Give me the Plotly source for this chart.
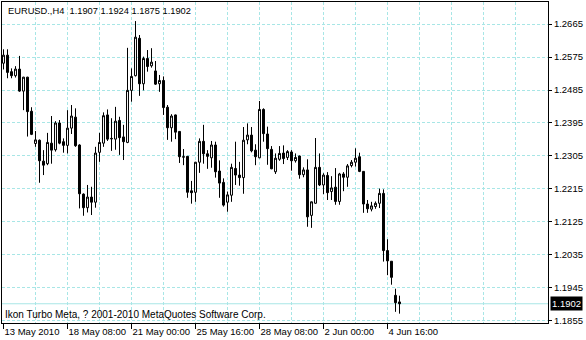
import plotly.graph_objects as go

# ---- data: EURUSD H4 bars (bar index 0..99) ----
opens = [1.2558, 1.2580, 1.2535, 1.2524, 1.2542, 1.2482, 1.2520, 1.2427, 1.2339, 1.2348,
         1.2291, 1.2284, 1.2340, 1.2322, 1.2395, 1.2344, 1.2334, 1.2381, 1.2411, 1.2335,
         1.2201, 1.2164, 1.2193, 1.2179, 1.2315, 1.2340, 1.2417, 1.2353, 1.2351, 1.2402,
         1.2357, 1.2342, 1.2484, 1.2524, 1.2626, 1.2502, 1.2571, 1.2551, 1.2537, 1.2502,
         1.2511, 1.2438, 1.2382, 1.2417, 1.2372, 1.2303, 1.2304, 1.2210, 1.2206, 1.2288,
         1.2345, 1.2311, 1.2300, 1.2335, 1.2264, 1.2233, 1.2179, 1.2198, 1.2271, 1.2253,
         1.2246, 1.2349, 1.2362, 1.2321, 1.2300, 1.2432, 1.2365, 1.2323, 1.2262, 1.2296,
         1.2313, 1.2301, 1.2316, 1.2292, 1.2305, 1.2254, 1.2267, 1.2143, 1.2176, 1.2274,
         1.2226, 1.2252, 1.2208, 1.2220, 1.2181, 1.2256, 1.2247, 1.2279, 1.2288, 1.2303,
         1.2263, 1.2174, 1.2160, 1.2167, 1.2176, 1.2203, 1.2047, 1.2018, 1.1925, 1.1907]
highs = [1.2596, 1.2596, 1.2544, 1.2550, 1.2578, 1.2521, 1.2521, 1.2438, 1.2373, 1.2350,
         1.2321, 1.2368, 1.2414, 1.2400, 1.2403, 1.2353, 1.2430, 1.2444, 1.2435, 1.2337,
         1.2203, 1.2226, 1.2221, 1.2330, 1.2368, 1.2424, 1.2432, 1.2408, 1.2439, 1.2412,
         1.2390, 1.2600, 1.2544, 1.2673, 1.2635, 1.2576, 1.2594, 1.2599, 1.2564, 1.2526,
         1.2522, 1.2444, 1.2419, 1.2418, 1.2373, 1.2324, 1.2305, 1.2237, 1.2289, 1.2353,
         1.2390, 1.2321, 1.2346, 1.2344, 1.2293, 1.2244, 1.2208, 1.2284, 1.2344, 1.2289,
         1.2384, 1.2394, 1.2384, 1.2337, 1.2455, 1.2435, 1.2385, 1.2332, 1.2312, 1.2332,
         1.2334, 1.2321, 1.2321, 1.2312, 1.2306, 1.2274, 1.2296, 1.2181, 1.2354, 1.2312,
         1.2258, 1.2261, 1.2250, 1.2272, 1.2259, 1.2261, 1.2283, 1.2294, 1.2326, 1.2314,
         1.2264, 1.2185, 1.2180, 1.2181, 1.2216, 1.2214, 1.2078, 1.2018, 1.1943, 1.1924]
lows = [1.2541, 1.2517, 1.2517, 1.2519, 1.2480, 1.2430, 1.2358, 1.2362, 1.2330, 1.2232,
        1.2253, 1.2280, 1.2284, 1.2317, 1.2337, 1.2314, 1.2312, 1.2365, 1.2330, 1.2162,
        1.2142, 1.2151, 1.2144, 1.2164, 1.2289, 1.2330, 1.2346, 1.2319, 1.2322, 1.2308,
        1.2294, 1.2340, 1.2453, 1.2522, 1.2469, 1.2484, 1.2535, 1.2546, 1.2499, 1.2480,
        1.2417, 1.2349, 1.2344, 1.2351, 1.2286, 1.2280, 1.2191, 1.2175, 1.2180, 1.2259,
        1.2284, 1.2270, 1.2273, 1.2246, 1.2191, 1.2167, 1.2153, 1.2180, 1.2226, 1.2224,
        1.2202, 1.2337, 1.2315, 1.2280, 1.2299, 1.2344, 1.2281, 1.2269, 1.2256, 1.2292,
        1.2283, 1.2294, 1.2265, 1.2287, 1.2243, 1.2247, 1.2112, 1.2109, 1.2175, 1.2223,
        1.2201, 1.2185, 1.2185, 1.2172, 1.2172, 1.2209, 1.2221, 1.2274, 1.2276, 1.2261,
        1.2150, 1.2150, 1.2154, 1.2161, 1.2163, 1.2017, 1.1980, 1.1954, 1.1880, 1.1875]
closes = [1.2580, 1.2533, 1.2524, 1.2542, 1.2482, 1.2520, 1.2426, 1.2364, 1.2349, 1.2292,
          1.2280, 1.2342, 1.2321, 1.2395, 1.2340, 1.2334, 1.2381, 1.2414, 1.2333, 1.2202,
          1.2164, 1.2193, 1.2179, 1.2313, 1.2342, 1.2415, 1.2351, 1.2352, 1.2400, 1.2355,
          1.2344, 1.2484, 1.2522, 1.2629, 1.2502, 1.2571, 1.2549, 1.2561, 1.2501, 1.2511,
          1.2437, 1.2382, 1.2414, 1.2370, 1.2303, 1.2302, 1.2206, 1.2205, 1.2288, 1.2345,
          1.2311, 1.2304, 1.2335, 1.2262, 1.2231, 1.2171, 1.2199, 1.2274, 1.2253, 1.2246,
          1.2348, 1.2362, 1.2319, 1.2303, 1.2432, 1.2366, 1.2325, 1.2270, 1.2299, 1.2312,
          1.2298, 1.2317, 1.2292, 1.2301, 1.2254, 1.2267, 1.2139, 1.2180, 1.2274, 1.2226,
          1.2253, 1.2205, 1.2218, 1.2181, 1.2256, 1.2247, 1.2278, 1.2288, 1.2299, 1.2263,
          1.2174, 1.2161, 1.2169, 1.2176, 1.2203, 1.2047, 1.2019, 1.1974, 1.1905, 1.1902]
bar_index = list(range(len(closes)))

x_tick_index = [0, 16, 32, 48, 64, 80, 96]
x_tick_labels = ["13 May 2010", "18 May 08:00", "21 May 00:00", "25 May 16:00",
                 "28 May 08:00", "2 Jun 00:00", "4 Jun 16:00"]
x_grid_index = [8, 16, 24, 32, 40, 48, 56, 64, 72, 80, 88, 96, 104, 112, 120, 128]
y_tick_values = [1.2665, 1.2575, 1.2485, 1.2395, 1.2305, 1.2215, 1.2125, 1.2035, 1.1945, 1.1855]
y_tick_labels = ["1.2665", "1.2575", "1.2485", "1.2395", "1.2305", "1.2215", "1.2125",
                 "1.2035", "1.1945", "1.1855"]

symbol = "EURUSD.,H4"
footer = "Ikon Turbo Meta, ? 2001-2010 MetaQuotes Software Corp."

GRID = "#a8e6e6"
FONT = "Liberation Sans, Arial, sans-serif"
FS = 9.5
FS_TITLE = 9.3
FS_TEXT = 10
X_RANGE = [-0.375, 136.125]
Y_RANGE = [1.18495, 1.2725]

fig = go.Figure()
fig.add_trace(go.Candlestick(
    x=bar_index, open=opens, high=highs, low=lows, close=closes,
    increasing=dict(line=dict(color="black", width=1), fillcolor="white"),
    decreasing=dict(line=dict(color="black", width=1), fillcolor="black"),
    whiskerwidth=0, showlegend=False, hoverinfo="skip",
))

fig.add_shape(type="line", xref="paper", x0=0, x1=1, yref="y",
              y0=closes[-1], y1=closes[-1], line=dict(color=GRID, width=1), layer="below")

title_text = (f"{symbol}\u00a0\u00a0{opens[-1]:.4f}\u00a0{highs[-1]:.4f}"
              f"\u00a0{lows[-1]:.4f}\u00a0{closes[-1]:.4f}")

fig.update_layout(
    width=586, height=340,
    margin=dict(l=2, r=38, t=2, b=17),
    paper_bgcolor="white", plot_bgcolor="white",
    font=dict(family=FONT, size=FS, color="black"),
    showlegend=False,
    xaxis=dict(
        range=X_RANGE, rangeslider=dict(visible=False),
        tickmode="array", tickvals=x_tick_index, ticktext=x_tick_labels,
        ticks="outside", ticklen=5, tickcolor="black", tickwidth=1,
        ticklabelposition="outside right", tickangle=0,
        showgrid=False, zeroline=False,
        showline=True, linecolor="black", linewidth=1, mirror=True,
        tickfont=dict(family=FONT, size=FS, color="black"),
    ),
    xaxis2=dict(
        range=X_RANGE, overlaying="x", anchor="y", matches="x",
        tickmode="array", tickvals=x_grid_index,
        showticklabels=False, ticks="",
        showgrid=True, gridcolor=GRID, gridwidth=1, griddash="3px,2px",
        zeroline=False, showline=False,
    ),
    yaxis=dict(
        range=Y_RANGE, side="right",
        tickmode="array", tickvals=y_tick_values, ticktext=y_tick_labels,
        ticks="outside", ticklen=3, tickcolor="black", tickwidth=1,
        showgrid=True, gridcolor=GRID, gridwidth=1, griddash="3px,2px",
        zeroline=False,
        showline=True, linecolor="black", linewidth=1, mirror=True,
        tickfont=dict(family=FONT, size=FS, color="black"),
    ),
    annotations=[
        dict(xref="paper", yref="paper", x=0, y=1, xanchor="left", yanchor="top",
             xshift=4, yshift=-2, text=title_text, showarrow=False,
             font=dict(family=FONT, size=FS_TITLE, color="black")),
        dict(xref="paper", yref="paper", x=0, y=0, xanchor="left", yanchor="bottom",
             xshift=1, yshift=1, text=footer, showarrow=False,
             font=dict(family=FONT, size=FS_TEXT, color="black")),
        dict(xref="paper", yref="y", x=1, y=closes[-1], xanchor="left", yanchor="middle",
             xshift=2, text=f"{closes[-1]:.4f}", showarrow=False, bgcolor="black",
             borderpad=1, font=dict(family=FONT, size=FS, color="white")),
    ],
)

# invisible trace to keep the grid axis alive
fig.add_trace(go.Scatter(x=[X_RANGE[0]], y=[Y_RANGE[0]], xaxis="x2", yaxis="y",
                         mode="markers", marker=dict(opacity=0), showlegend=False,
                         hoverinfo="skip"))

fig.write_html("out.html")
